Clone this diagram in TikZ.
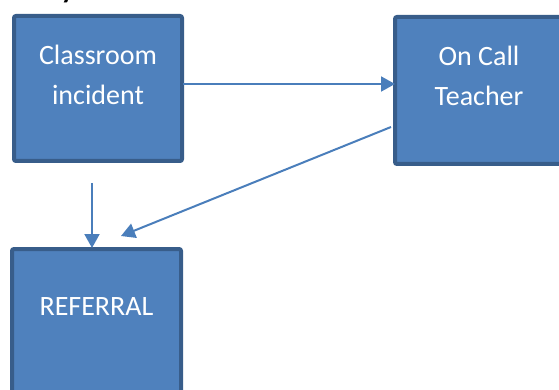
\documentclass[tikz,border=0pt]{standalone}
\usepackage{fontspec}
\setmainfont{Carlito}
\usetikzlibrary{arrows.meta}
\definecolor{boxfill}{HTML}{4F81BD}
\definecolor{boxline}{HTML}{385D8A}
\definecolor{arrowcol}{HTML}{4A7EBB}
\tikzset{
  box/.style={draw=boxline, fill=boxfill, line width=4pt, rounded corners=2pt, inner sep=0pt},
  boxtext/.style={text=white, align=center, font=\fontsize{28}{40}\selectfont, inner sep=0pt},
  arr/.style={draw=arrowcol, line width=2pt, -{Triangle[length=14pt, width=15pt]}}
}
\begin{document}
\begin{tikzpicture}[x=1pt, y=-1pt]
\useasboundingbox (0,0) rectangle (559,390);
\clip (0,0) rectangle (559,390);
\node[anchor=base west, inner sep=0pt, font=\fontsize{28}{34}\selectfont\bfseries] (ttl) at (61,-1.5) {y};
\node[box, minimum width=168pt, minimum height=145pt] (cls) at (98,88.5) {};
\node[box, minimum width=168pt, minimum height=147pt] (onc) at (479,90.5) {};
\node[box, minimum width=169pt, minimum height=146pt] (ref) at (96.5,322) {};
\node[boxtext] (clst) at (98,75) {Classroom\\incident};
\node[boxtext] (onct) at (479,76) {On Call\\Teacher};
\node[boxtext] (reft) at (96.5,306.5) {REFERRAL};
\coordinate (a1s) at (183,84);
\coordinate (a1e) at (395,84);
\coordinate (a2s) at (92,183);
\coordinate (a2e) at (92,248);
\coordinate (a3s) at (391,127);
\coordinate (a3e) at (121,236);
\draw[arr] (a1s) -- (a1e);
\draw[arr] (a2s) -- (a2e);
\draw[arr] (a3s) -- (a3e);
\end{tikzpicture}
\end{document}
